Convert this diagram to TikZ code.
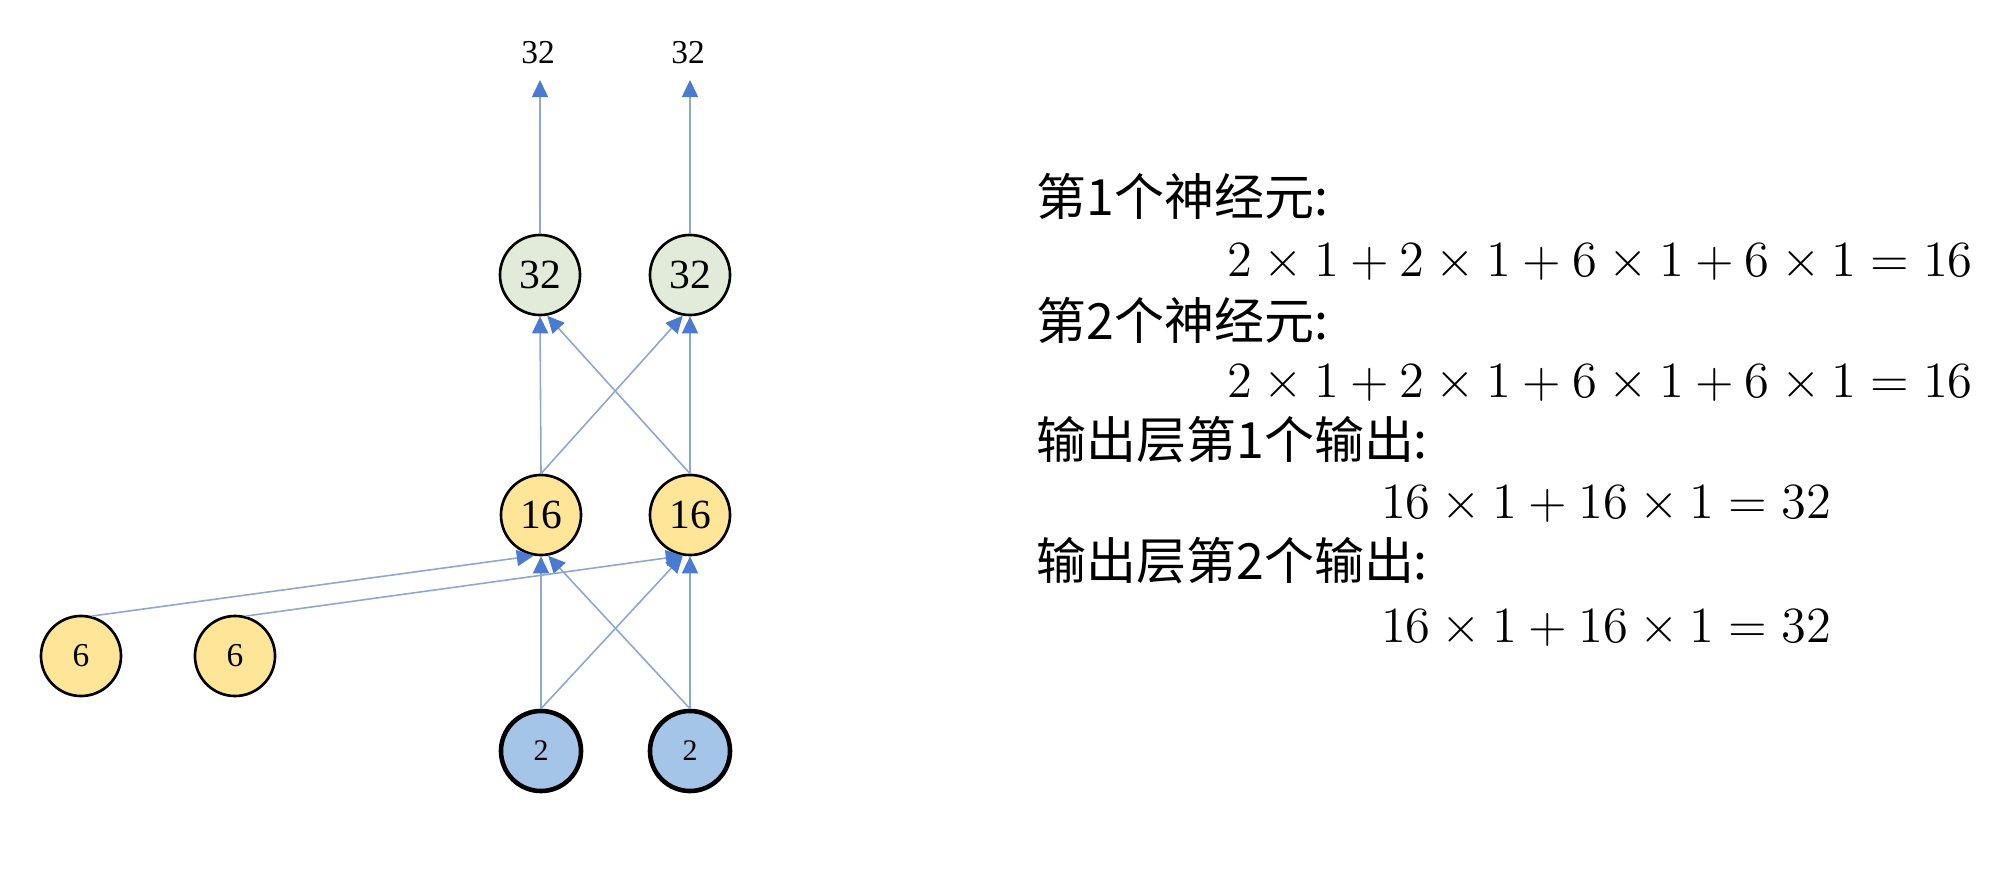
\documentclass[tikz,border=0pt]{standalone}
\usepackage{fontspec}
\setmainfont{Liberation Serif}
\newfontfamily\cjk{Noto Sans CJK SC}
\usepackage{tikz}
\usetikzlibrary{arrows.meta}
\definecolor{outgreen}{HTML}{E2EBD9}
\definecolor{hidyellow}{HTML}{FFE597}
\definecolor{inblue}{HTML}{A4C4E8}
\definecolor{linkblue}{HTML}{8EA6D4}
\definecolor{tipblue}{HTML}{4A7BD0}

\begin{document}
\begin{tikzpicture}[x=0.01cm, y=-0.01cm,
	neuron/.style={circle, draw=black, line width=0.75pt, minimum size=0.8cm, inner sep=0pt, font=\fontsize{11.8}{12}\selectfont},
	outnode/.style={neuron, fill=outgreen},
	hidnode/.style={neuron, fill=hidyellow},
	innode/.style={neuron, fill=inblue, line width=1.3pt, font=\fontsize{8.5}{10}\selectfont},
	link/.style={draw=linkblue, line width=0.45pt, -{Triangle[length=0.17cm, width=0.16cm, color=tipblue]}},
	txt/.style={anchor=west, inner sep=0pt, font=\cjk\fontsize{14.2}{15}\selectfont},
	sum/.style={inner sep=0pt, font=\fontsize{14.7}{16}\selectfont}]
	\useasboundingbox (0,0) rectangle (2000,888);
	% input layer
	\node [innode] (v1) at (541,751) {2};
	\node [innode] (v2) at (690,751) {2};
	\node [hidnode, font=\fontsize{9.5}{10}\selectfont] (v3) at (81,656) {6};
	\node [hidnode, font=\fontsize{9.5}{10}\selectfont] (v4) at (235,656) {6};
	% hidden layer
	\node [hidnode] (v5) at (541,515) {16};
	\node [hidnode] (v6) at (690,515) {16};
	% output layer
	\node [outnode] (v7) at (540,275) {32};
	\node [outnode] (v8) at (690,275) {32};
	\coordinate (v9) at (540,80);
	\coordinate (v10) at (690,80);
	\node [font=\fontsize{9.5}{10}\selectfont] (v11) at (538,53) {32};
	\node [font=\fontsize{9.5}{10}\selectfont] (v12) at (688,53) {32};
	\draw [link] (v1.north) -- (v5.south);
	\draw [link] (v1.north) -- (v6.-100);
	\draw [link] (v2.north) -- (v5.-80);
	\draw [link] (v2.north) -- (v6.south);
	\draw [link] (v3.75) -- (v5.-100);
	\draw [link] (v4.75) -- (v6.-100);
	\draw [link] (v5.north) -- (v7.south);
	\draw [link] (v5.north) -- (v8.-100);
	\draw [link] (v6.north) -- (v7.-80);
	\draw [link] (v6.north) -- (v8.south);
	\draw [link] (v7) -- (v9);
	\draw [link] (v8) -- (v10);
	% sums
	\node [txt] (t1) at (1036,196) {第1个神经元:};
	\node [sum] (s1) at (1600,262) {$2\times1+2\times1+6\times1+6\times1=16$};
	\node [txt] (t2) at (1036,320) {第2个神经元:};
	\node [sum] (s2) at (1600,383) {$2\times1+2\times1+6\times1+6\times1=16$};
	\node [txt] (t3) at (1036,440) {输出层第1个输出:};
	\node [sum] (s3) at (1606,504) {$16\times1+16\times1=32$};
	\node [txt] (t4) at (1036,561) {输出层第2个输出:};
	\node [sum] (s4) at (1606,628) {$16\times1+16\times1=32$};
\end{tikzpicture}
\end{document}
